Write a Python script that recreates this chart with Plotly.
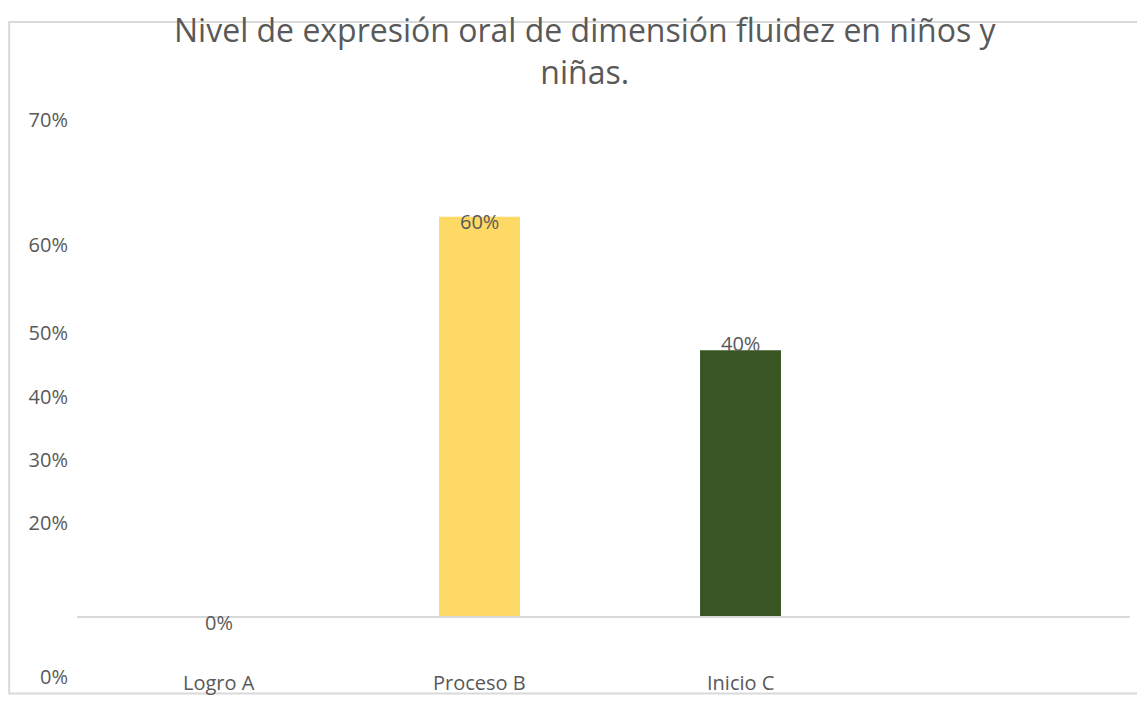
import plotly.graph_objects as go

categories = ["Logro A", "Proceso B", "Inicio C"]
values = [0, 60, 40]
value_labels = ["0%", "60%", "40%"]
bar_colors = ["#FFD966", "#FFD966", "#375623"]

# the y labels of the original sit at uneven heights; keep them where they were drawn
tick_labels = ["70%", "60%", "50%", "40%", "30%", "20%", "0%"]
tick_positions = [74.5, 55.8, 42.5, 33.0, 23.5, 14.1, -9.0]
label_shifts = [-6, -5, 7]

TITLE = "Nivel de expresión oral de dimensión fluidez en niños y<br>niñas."
TEXT_COLOR = "#595959"
FONT = "Open Sans, Liberation Sans, sans-serif"

fig = go.Figure()
fig.add_trace(
    go.Bar(
        x=categories,
        y=values,
        width=0.31,
        marker={"color": bar_colors, "line": {"width": 0}},
        hoverinfo="x+y",
        showlegend=False,
    )
)

for category, value, label, shift in zip(categories, values, value_labels, label_shifts):
    fig.add_annotation(
        x=category,
        y=value,
        text=label,
        showarrow=False,
        yshift=shift,
        font={"size": 20, "color": TEXT_COLOR, "family": FONT},
    )

# category names sit at the very bottom edge, lifted just enough to stay readable
for category in categories:
    fig.add_annotation(
        x=category,
        xref="x",
        yref="paper",
        y=0.024,
        yanchor="top",
        text=category,
        showarrow=False,
        font={"size": 20, "color": TEXT_COLOR, "family": FONT},
    )

fig.add_annotation(
    text=TITLE,
    xref="paper",
    yref="paper",
    x=0.476,
    y=1.182,
    xanchor="center",
    yanchor="top",
    showarrow=False,
    font={"size": 32, "color": TEXT_COLOR, "family": FONT},
)

# baseline and outer chart frame
fig.add_shape(
    type="line", xref="paper", yref="y", x0=-0.0105, x1=0.998, y0=0, y1=0,
    line={"color": "#d9d9d9", "width": 2},
)
fig.add_shape(
    type="rect", xref="paper", yref="paper", x0=-0.0755, x1=1.2, y0=-0.022, y1=1.154,
    line={"color": "#d9d9d9", "width": 2}, layer="above",
)

fig.update_layout(
    width=1129,
    height=687,
    paper_bgcolor="white",
    plot_bgcolor="white",
    margin={"l": 80, "r": 5, "t": 102, "b": 14},
    font={"family": FONT, "color": TEXT_COLOR, "size": 20},
    xaxis={
        "type": "category",
        "range": [-0.5, 3.5],
        "automargin": False,
        "showgrid": False,
        "showline": False,
        "zeroline": False,
        "showticklabels": False,
        "ticks": "",
    },
    yaxis={
        "range": [-9.6, 76],
        "automargin": False,
        "tickmode": "array",
        "tickvals": tick_positions,
        "ticktext": tick_labels,
        "showgrid": False,
        "showline": False,
        "zeroline": False,
        "ticks": "",
        "ticklabelstandoff": 19,
        "tickfont": {"size": 20, "color": TEXT_COLOR},
    },
)

fig.write_html("out.html")
